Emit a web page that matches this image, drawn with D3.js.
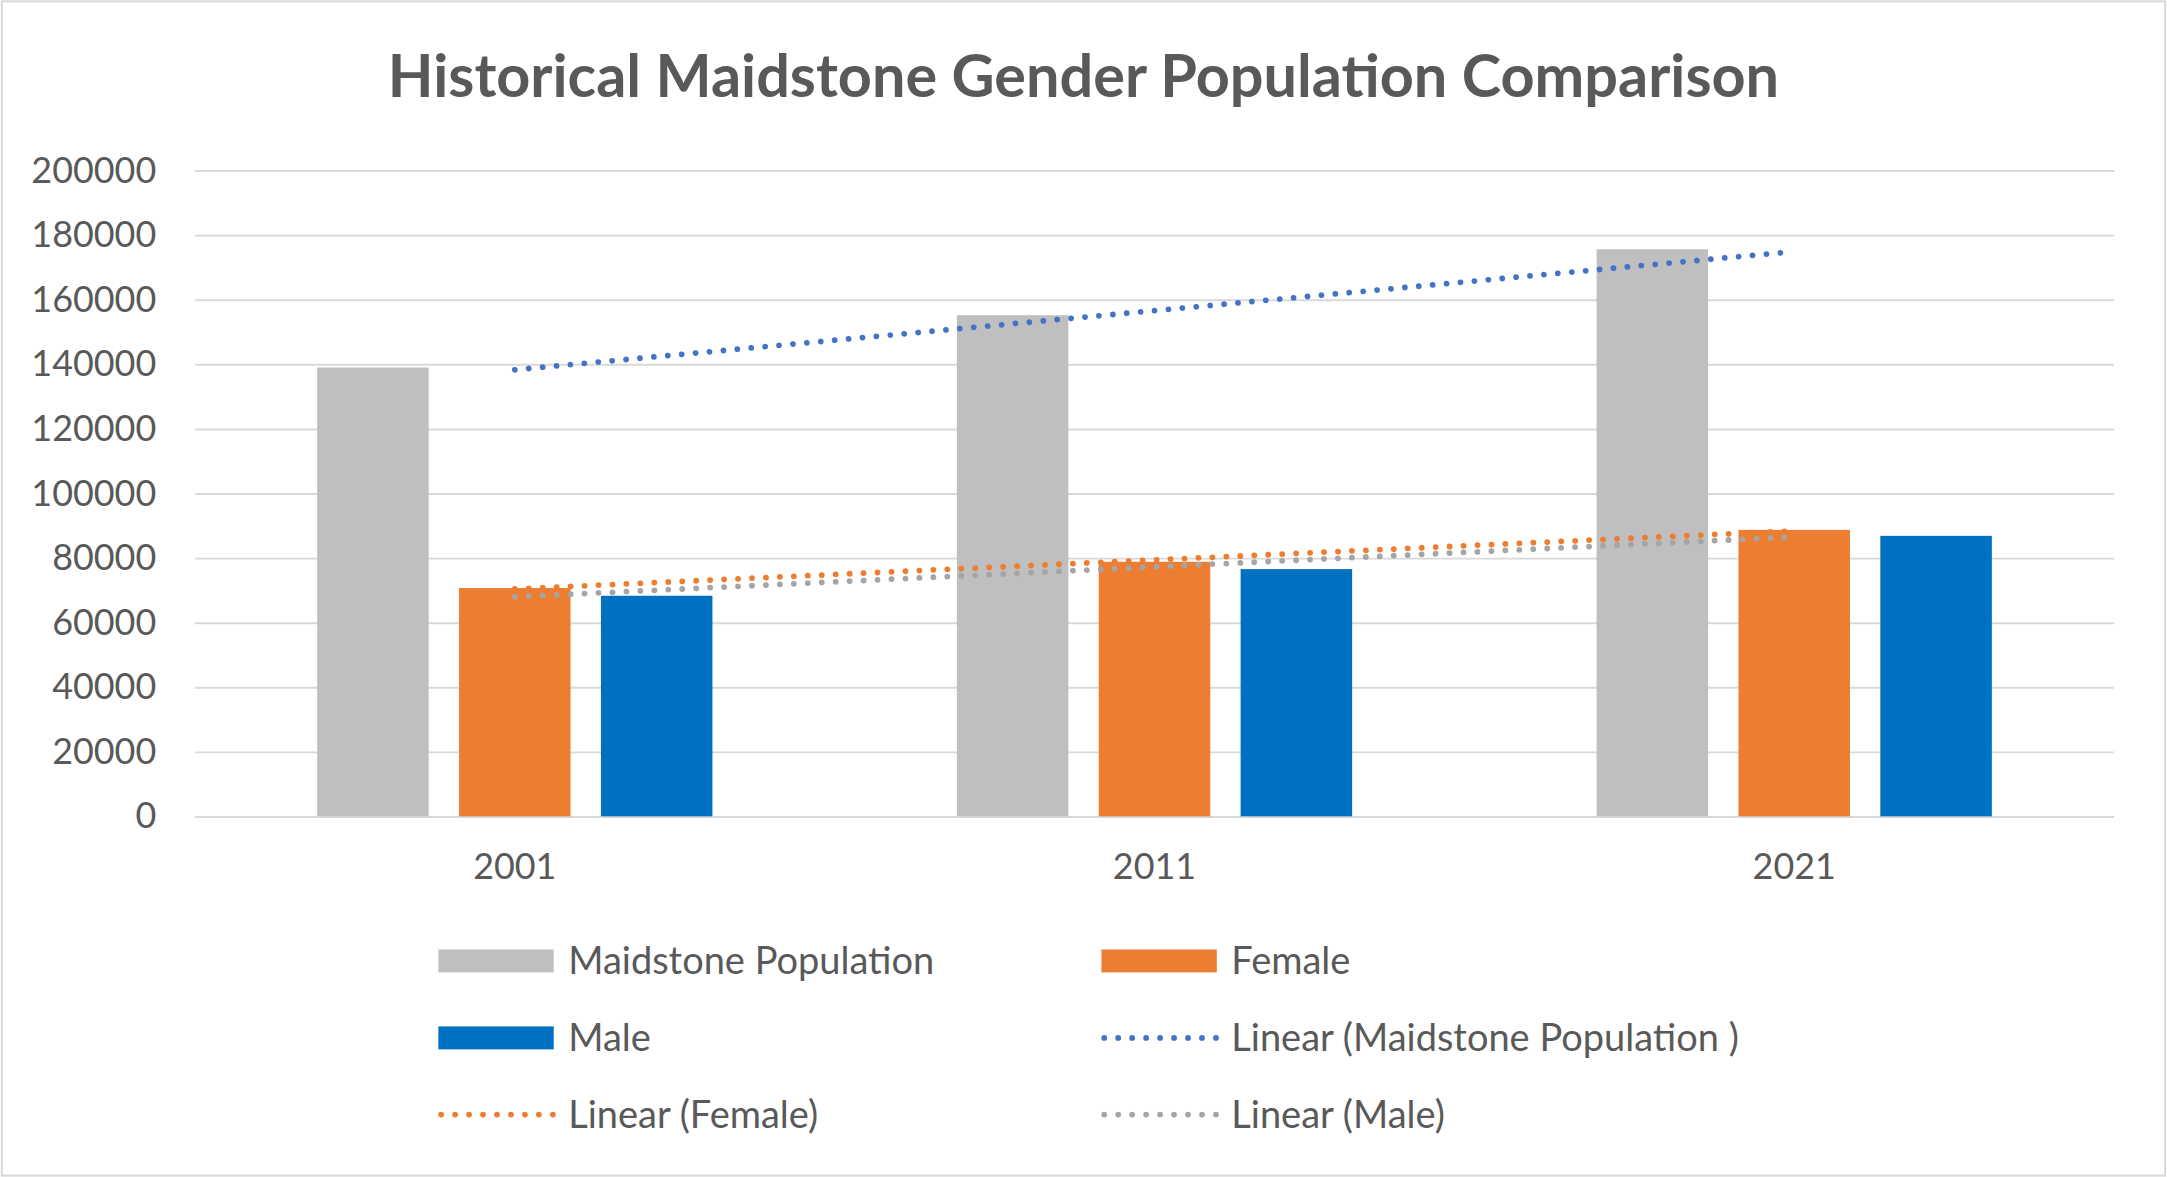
<!DOCTYPE html>
<html>
<head>
<meta charset="utf-8">
<script src="https://cdn.jsdelivr.net/npm/d3@7"></script>
<style>
  html, body { margin: 0; padding: 0; background: #fff; }
  svg { display: block; }
  text { font-family: Lato, "Open Sans", sans-serif; fill: #595959; }
</style>
</head>
<body>
<svg id="vis"></svg>
<script>
// datos
const years = ["2001", "2011", "2021"];
const seriesNames = ["Maidstone Population", "Female", "Male"];
const population = [138948, 155143, 175570];
const female = [70670, 78800, 88670];
const male = [68280, 76540, 86830];
const yTicks = [0, 20000, 40000, 60000, 80000, 100000, 120000, 140000, 160000, 180000, 200000];
const legendItems = [
  { label: "Maidstone Population", kind: "bar", color: "#BFBFBF" },
  { label: "Female", kind: "bar", color: "#ED7D31" },
  { label: "Male", kind: "bar", color: "#0070C0" },
  { label: "Linear (Maidstone Population )", kind: "trend", color: "#4472C4" },
  { label: "Linear (Female)", kind: "trend", color: "#ED7D31" },
  { label: "Linear (Male)", kind: "trend", color: "#A5A5A5" }
];

const barColors = ["#BFBFBF", "#ED7D31", "#0070C0"];
const trendColors = ["#4472C4", "#ED7D31", "#A5A5A5"];

const WIDTH = 1568;
const HEIGHT = 852;

const svg = d3.select("#vis")
  .attr("width", 2167)
  .attr("height", 1177)
  .attr("viewBox", `0 0 ${WIDTH} ${HEIGHT}`);

// marco exterior
svg.append("rect")
  .attr("x", 1).attr("y", 1)
  .attr("width", WIDTH - 2).attr("height", HEIGHT - 2)
  .attr("fill", "#fff")
  .attr("stroke", "#D9D9D9")
  .attr("stroke-width", 1.5);

svg.append("text")
  .attr("x", 784)
  .attr("y", 70)
  .attr("text-anchor", "middle")
  .attr("font-weight", "bold")
  .attr("font-size", 43)
  .text("Historical Maidstone Gender Population Comparison");

const plotLeft = 140.8, plotRight = 1530, plotTop = 123.3, plotBottom = 590.9;

const x0 = d3.scaleBand().domain(years).range([plotLeft, plotRight]);
const x1 = d3.scaleBand().domain(seriesNames)
  .range([-154.05, 154.05])
  .paddingInner(0.214)
  .paddingOuter(0.107);
const y = d3.scaleLinear().domain([0, 200000]).range([plotBottom, plotTop]);

// grilla + eje Y
const ejeY = d3.axisLeft(y)
  .tickValues(yTicks)
  .tickFormat(d3.format("d"))
  .tickSize(-(plotRight - plotLeft))
  .tickPadding(28);

const gy = svg.append("g")
  .attr("transform", `translate(${plotLeft},0)`)
  .call(ejeY);
gy.select(".domain").remove();
gy.selectAll(".tick line").attr("stroke", "#D9D9D9").attr("stroke-width", 1.4);
gy.selectAll(".tick text")
  .attr("font-size", 26)
  .attr("fill", "#595959")
  .attr("font-family", "Lato, sans-serif");

// eje X
const ejeX = d3.axisBottom(x0).tickSize(0).tickPadding(27);
const gx = svg.append("g")
  .attr("transform", `translate(0,${plotBottom})`)
  .call(ejeX);
gx.select(".domain").remove();
gx.selectAll(".tick text")
  .attr("font-size", 26)
  .attr("fill", "#595959")
  .attr("font-family", "Lato, sans-serif");

// barras
const allSeries = [population, female, male];
const barData = [];
years.forEach((yr, i) => {
  seriesNames.forEach((s, j) => {
    barData.push({ year: yr, serie: s, value: allSeries[j][i], color: barColors[j] });
  });
});

svg.append("g").selectAll("rect")
  .data(barData)
  .join("rect")
  .attr("x", d => x0(d.year) + x0.bandwidth() / 2 + x1(d.serie))
  .attr("y", d => y(d.value))
  .attr("width", x1.bandwidth())
  .attr("height", d => plotBottom - y(d.value))
  .attr("fill", d => d.color);

// lineas de tendencia (regresion lineal)
function linearFit(values) {
  const n = values.length;
  const xs = values.map((_, i) => i + 1);
  const mx = d3.mean(xs), my = d3.mean(values);
  const b = d3.sum(xs, (xv, i) => (xv - mx) * (values[i] - my)) / d3.sum(xs, xv => (xv - mx) ** 2);
  const a = my - b * mx;
  return [{ i: 0, v: a + b * 1 }, { i: n - 1, v: a + b * n }];
}

const lineGen = d3.line()
  .x(d => x0(years[d.i]) + x0.bandwidth() / 2)
  .y(d => y(d.v));

allSeries.forEach((vals, j) => {
  svg.append("path")
    .attr("d", lineGen(linearFit(vals)))
    .attr("fill", "none")
    .attr("stroke", trendColors[j])
    .attr("stroke-width", 4.2)
    .attr("stroke-linecap", "round")
    .attr("stroke-dasharray", "0.01 10.1");
});

// leyenda
const legendCols = [317, 797];
const legendRows = [695.6, 751.3, 806.8];

const leg = svg.append("g").selectAll("g")
  .data(legendItems)
  .join("g")
  .attr("transform", (d, i) => `translate(${legendCols[i % 2]},${legendRows[Math.floor(i / 2)]})`);

leg.filter(d => d.kind === "bar").append("rect")
  .attr("x", 0).attr("y", -8.3)
  .attr("width", 83.5).attr("height", 16.6)
  .attr("fill", d => d.color);

leg.filter(d => d.kind === "trend").append("line")
  .attr("x1", 2).attr("x2", 83)
  .attr("y1", 0).attr("y2", 0)
  .attr("stroke", d => d.color)
  .attr("stroke-width", 4.2)
  .attr("stroke-linecap", "round")
  .attr("stroke-dasharray", "0.01 10.1");

leg.append("text")
  .attr("x", 94)
  .attr("y", 9.5)
  .attr("font-size", 27.5)
  .text(d => d.label);
</script>
</body>
</html>
